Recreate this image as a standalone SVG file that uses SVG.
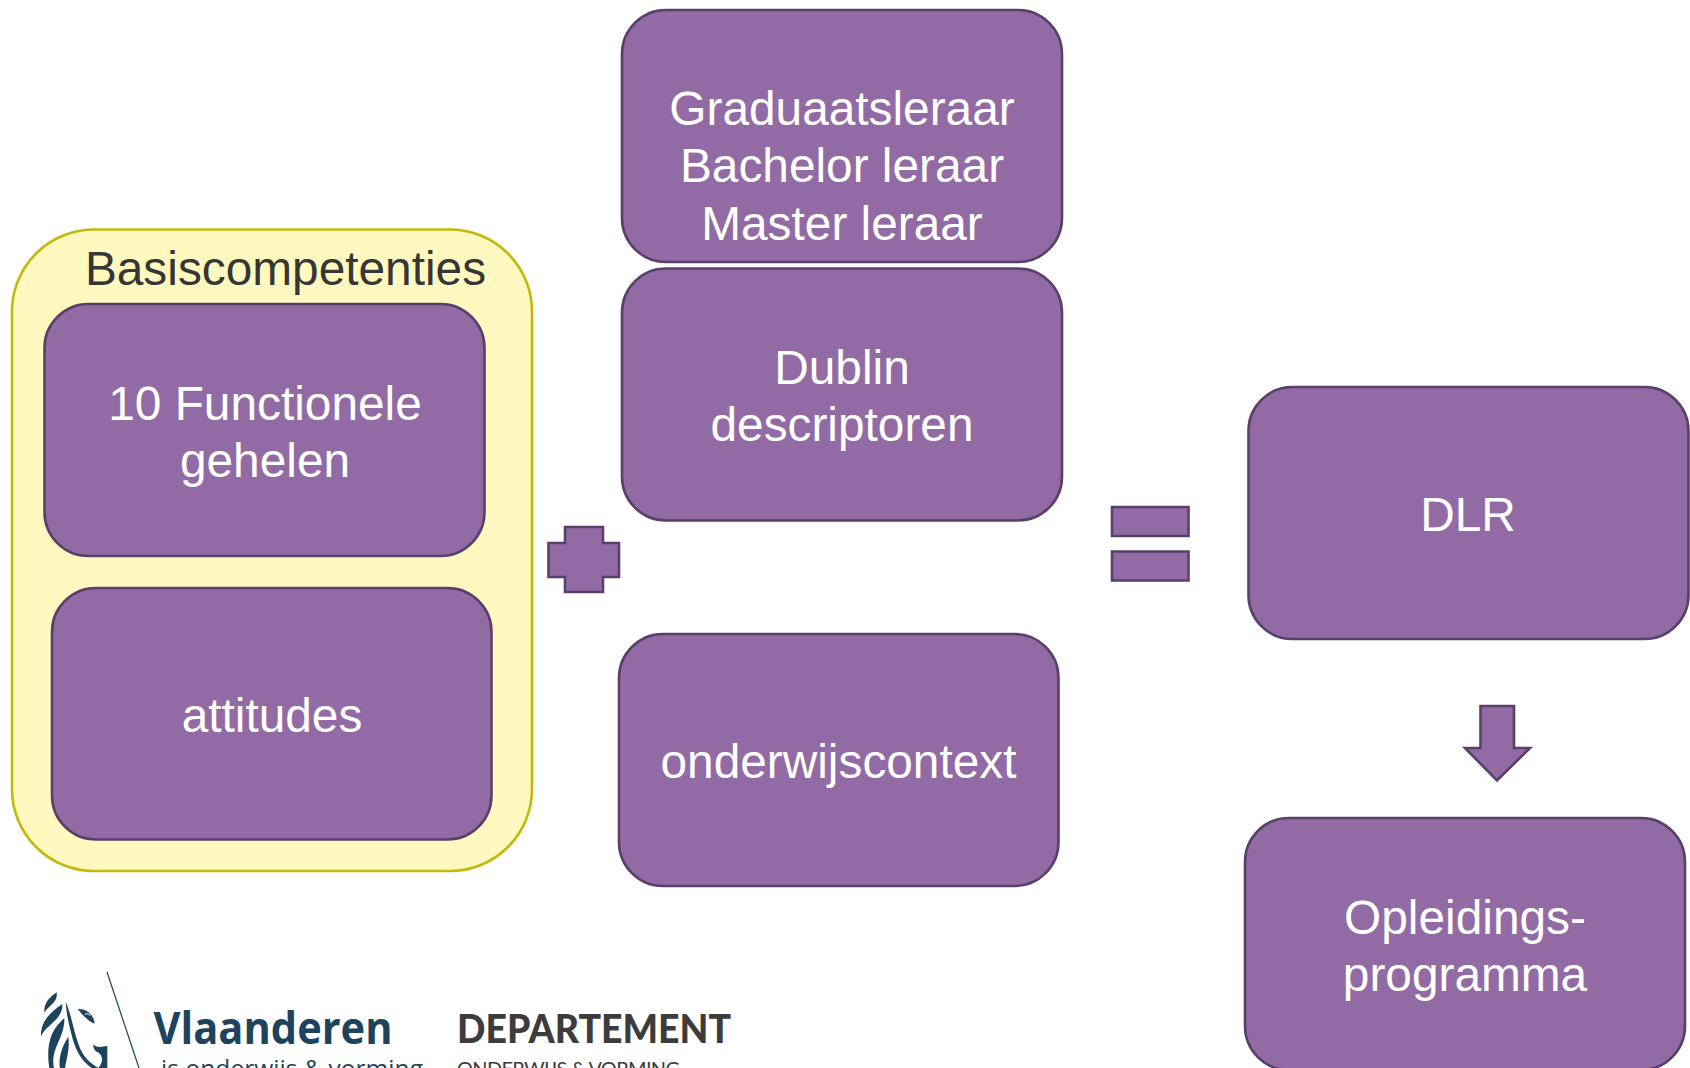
<svg xmlns="http://www.w3.org/2000/svg" width="1690" height="1068" viewBox="0 0 1690 1068">
<style>
.b{fill:#926ba4;stroke:#59406a;stroke-width:2.6}
.t{font-family:"Liberation Sans",Arial,sans-serif;font-size:47.8px;fill:#fff;text-anchor:middle}
.lion{fill:#1d445c}
</style>
<rect width="1690" height="1068" fill="#fff"/>
<g id="basiscompetenties">
<rect x="12" y="229.500" width="520" height="641.500" rx="82" fill="#fff9bf" stroke="#c4b80c" stroke-width="2.600"/>
<text class="t" x="285.500" y="285" style="fill:#363636">Basiscompetenties</text>
</g>
<g id="functionele"><rect class="b" x="44.500" y="304" width="440" height="252" rx="44"/>
<text class="t" x="265" y="419.500">10 Functionele</text><text class="t" x="265" y="477">gehelen</text></g>
<g id="attitudes"><rect class="b" x="52" y="588" width="439.500" height="251.500" rx="44"/>
<text class="t" x="272" y="732">attitudes</text></g>
<g id="plus"><path class="b" d="M565 527H603V543H619V577H603V592H565V577H548.500V543H565Z"/></g>
<g id="graduaat"><rect class="b" x="622" y="10" width="440" height="252" rx="44"/>
<text class="t" x="842" y="125">Graduaatsleraar</text><text class="t" x="842" y="182">Bachelor leraar</text><text class="t" x="842" y="240">Master leraar</text></g>
<g id="dublin"><rect class="b" x="622" y="268.500" width="440" height="252" rx="44"/>
<text class="t" x="842" y="384">Dublin</text><text class="t" x="842" y="441">descriptoren</text></g>
<g id="onderwijscontext"><rect class="b" x="619" y="634" width="439.500" height="252" rx="44"/>
<text class="t" x="838.500" y="778">onderwijscontext</text></g>
<g id="equals"><path class="b" d="M1112 507H1188.500V536H1112Z"/><path class="b" d="M1112 551.500H1188.500V580.500H1112Z"/></g>
<g id="dlr"><rect class="b" x="1248.500" y="387" width="440" height="252" rx="44"/>
<text class="t" x="1468" y="531">DLR</text></g>
<g id="arrow"><path class="b" d="M1480.500 706H1514V748H1530L1497 780.500L1465 748H1480.500Z"/></g>
<g id="opleiding"><rect class="b" x="1245" y="818" width="440" height="252" rx="44"/>
<text class="t" x="1465" y="934">Opleidings-</text><text class="t" x="1465" y="991">programma</text></g>
<g id="logo">
<path d="M107 972L139 1068" stroke="#1d445c" stroke-width="1.200" fill="none"/>
<g class="lion" transform="translate(30,985) scale(.3333)">
<path d="M80 22C60 35 40 55 43 85C50 65 85 55 80 22Z"/>
<path d="M97 57C70 75 30 105 33 155C45 120 100 105 97 57Z"/>
<path d="M103 100C75 125 45 160 58 249H72C60 190 105 160 103 100Z"/>
<path d="M115 155C95 185 85 220 90 249H105C110 220 120 190 115 155Z"/>
<path d="M107 50C125 90 130 140 150 190C165 225 190 240 205 249H185C150 225 135 190 125 150C115 110 110 90 107 50Z"/>
<path d="M143 72C165 70 190 85 194 115L190 115C180 110 160 95 143 72Z"/>
<path d="M190 178C200 190 215 185 232 183V249H205C225 225 215 205 200 200C192 195 190 190 190 178Z"/>
<path d="M165 88A9 6 0 0 1 180 92" fill="none" stroke="#fff" stroke-width="3"/>
</g>
<text x="153.500" y="1044" font-family="'Open Sans',sans-serif" font-size="45" font-weight="700" fill="#1d445c" textLength="239" lengthAdjust="spacingAndGlyphs">Vlaanderen</text>
<text x="161" y="1077" font-family="'Open Sans',sans-serif" font-size="24.500" fill="#1d445c" textLength="262">is onderwijs &amp; vorming</text>
<text x="457" y="1043" font-family="Lato,sans-serif" font-size="40" font-weight="900" fill="#3c3c3c" textLength="274" lengthAdjust="spacingAndGlyphs">DEPARTEMENT</text>
<text x="457" y="1076" font-family="Lato,sans-serif" font-size="20" fill="#3c3c3c" textLength="223">ONDERWIJS &amp; VORMING</text>
</g>
</svg>
